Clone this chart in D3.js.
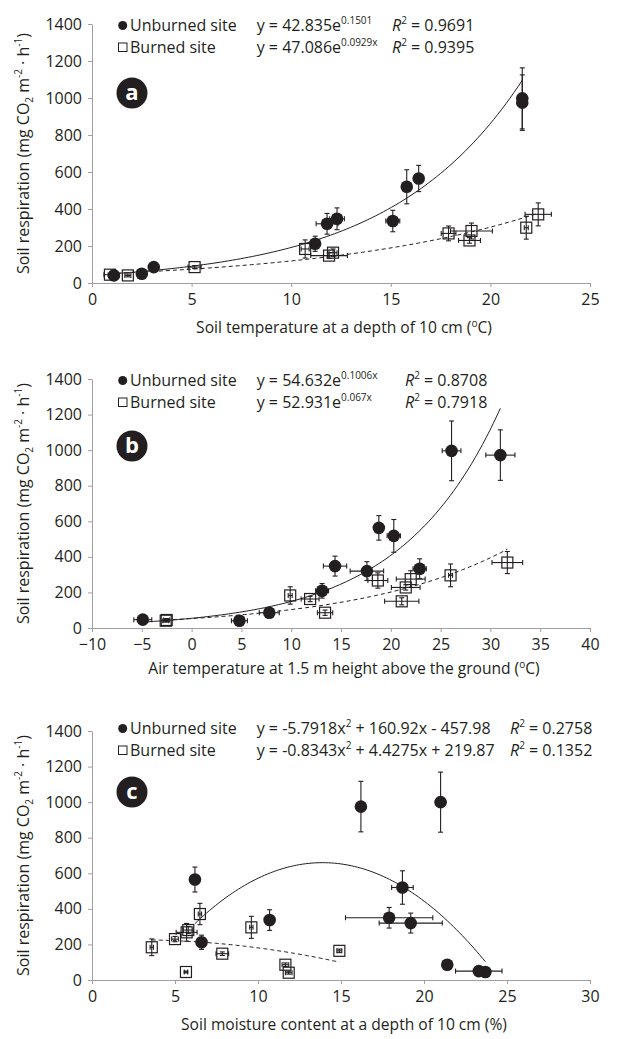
<!DOCTYPE html>
<html>
<head>
<meta charset="utf-8">
<script src="https://cdn.jsdelivr.net/npm/d3@7"></script>
<style>
body { margin: 0; background: #fff; }
</style>
</head>
<body>
<div id="chart"></div>
<script>
// svg nominal area
var svgWidth = 619;
var svgHeight = 1039;
var font = '"Open Sans", sans-serif';
var ink = '#231f20';
var axisGrey = '#a0a0a0';

// shared y ticks
var yTicks = [0, 200, 400, 600, 800, 1000, 1200, 1400];

// ---- panel a : soil temperature at 10 cm
var aXTicks = [0, 5, 10, 15, 20, 25];
var aUnX  = [1.1, 2.5, 3.1, 11.2, 11.8, 12.3, 15.1, 15.8, 16.4, 21.6, 21.6];
var aUnY  = [41, 50, 86, 212, 320, 347, 335, 520, 565, 998, 975];
var aUnXe = [0.1, 0.1, 0.1, 0.15, 0.55, 0.37, 0.35, 0.1, 0.1, 0.05, 0.05];
var aUnYe = [8, 8, 12, 41, 56, 59, 58, 92, 71, 165, 150];
var aBuX  = [0.9, 1.8, 5.15, 10.7, 11.9, 12.1, 17.9, 19.05, 18.95, 21.8, 22.4];
var aBuY  = [45, 41, 86, 184, 148, 164, 268, 281, 230, 299, 371];
var aBuXe = [0.3, 0.15, 0.33, 0.2, 0.92, 0.2, 0.37, 1.05, 0.55, 0.1, 0.66];
var aBuYe = [8, 8, 8, 49, 15, 20, 40, 43, 15, 62, 62];
var aUnFit = [42.835, 0.1501];
var aBuFit = [47.086, 0.0929];

// ---- panel b : air temperature at 1.5 m
var bXTicks = [-10, -5, 0, 5, 10, 15, 20, 25, 30, 35, 40];
var bUnX  = [-4.9, 4.8, 7.8, 13.1, 14.4, 17.6, 22.9, 20.3, 18.8, 26.1, 31.0];
var bUnY  = [47, 41, 86, 209, 348, 320, 333, 518, 563, 996, 972];
var bUnXe = [0.9, 0.8, 1.0, 0.65, 1.17, 1.68, 0.67, 0.67, 0.3, 0.94, 1.46];
var bUnYe = [8, 8, 12, 41, 56, 53, 56, 92, 69, 168, 142];
var bBuX  = [-2.5, -2.6, 9.9, 11.9, 13.4, 18.7, 21.1, 21.5, 22.0, 26.0, 31.7];
var bBuY  = [45, 41, 183, 163, 86, 267, 150, 228, 275, 296, 368];
var bBuXe = [0.3, 0.3, 0.2, 0.9, 0.77, 1.0, 1.72, 1.44, 1.45, 0.2, 1.54];
var bBuYe = [8, 8, 49, 15, 15, 43, 20, 15, 47, 64, 62];
var bUnFit = [54.632, 0.1006];
var bBuFit = [52.931, 0.067];

// ---- panel c : soil moisture at 10 cm
var cXTicks = [0, 5, 10, 15, 20, 25, 30];
var cUnX  = [23.7, 23.3, 21.4, 6.6, 19.2, 17.9, 10.7, 18.7, 6.2, 21.0, 16.2];
var cUnY  = [45, 50, 86, 212, 320, 350, 337, 520, 565, 1000, 975];
var cUnXe = [0.1, 1.4, 0.1, 0.1, 1.9, 2.63, 0.3, 0.65, 0.1, 0.1, 0.1];
var cUnYe = [5, 5, 8, 40, 56, 58, 58, 94, 70, 169, 142];
var cBuX  = [3.6, 5.0, 5.7, 5.8, 6.5, 9.6, 7.85, 14.9, 11.65, 11.85, 5.66];
var cBuY  = [184, 230, 268, 281, 371, 296, 148, 164, 86, 41, 45];
var cBuXe = [0.1, 0.2, 0.63, 0.3, 0.1, 0.1, 0.38, 0.15, 0.2, 0.2, 0.1];
var cBuYe = [47, 15, 50, 20, 60, 62, 10, 10, 10, 8, 5];
var cUnFit = [-5.7918, 160.92, -457.98];
var cBuFit = [-0.8343, 4.4275, 219.87];

// legend / equation texts  ([text, superscript?] segments)
var aEqs = [[['y = 42.835e', 0], ['0.1501', 1]], [['y = 47.086e', 0], ['0.0929x', 1]]];
var aR2 = ['0.9691', '0.9395'];
var bEqs = [[['y = 54.632e', 0], ['0.1006x', 1]], [['y = 52.931e', 0], ['0.067x', 1]]];
var bR2 = ['0.8708', '0.7918'];
var cEqs = [[['y = -5.7918x', 0], ['2', 1], [' + 160.92x - 457.98', 0]],
            [['y = -0.8343x', 0], ['2', 1], [' + 4.4275x + 219.87', 0]]];
var cR2 = ['0.2758', '0.1352'];

var zip = (xs, ys, xe, ye) => xs.map((v, i) => ({x: v, y: ys[i], xe: xe[i], ye: ye[i]}));
var expFit = c => (v => c[0] * Math.exp(c[1] * v));
var polyFit = c => (v => c[0] * v * v + c[1] * v + c[2]);

var panels = [
    {letter: 'a', top: 24, bottom: 283, xDomain: [0, 25], xTicks: aXTicks,
     un: zip(aUnX, aUnY, aUnXe, aUnYe), bu: zip(aBuX, aBuY, aBuXe, aBuYe),
     unFit: expFit(aUnFit), buFit: expFit(aBuFit), eqs: aEqs, r2: aR2,
     legY: [31, 53], rX: 392, badgeY: 93,
     xTitle: 'Soil temperature at a depth of 10 cm (', xTitleEnd: 'C)', xTitleY: 333},
    {letter: 'b', top: 379, bottom: 628, xDomain: [-10, 40], xTicks: bXTicks,
     un: zip(bUnX, bUnY, bUnXe, bUnYe), bu: zip(bBuX, bBuY, bBuXe, bBuYe),
     unFit: expFit(bUnFit), buFit: expFit(bBuFit), eqs: bEqs, r2: bR2,
     legY: [386, 408], rX: 405, badgeY: 446,
     xTitle: 'Air temperature at 1.5 m height above the ground (', xTitleEnd: 'C)', xTitleY: 674},
    {letter: 'c', top: 731, bottom: 980, xDomain: [0, 30], xTicks: cXTicks,
     un: zip(cUnX, cUnY, cUnXe, cUnYe), bu: zip(cBuX, cBuY, cBuXe, cBuYe),
     unFit: polyFit(cUnFit), buFit: polyFit(cBuFit), eqs: cEqs, r2: cR2,
     legY: [734, 756], rX: 510, badgeY: 792,
     xTitle: 'Soil moisture content at a depth of 10 cm (%)', xTitleEnd: null, xTitleY: 1030}
];

var plotLeft = 92;
var plotRight = 590;

var svg = d3.select('#chart')
    .append('svg')
    .attr('width', svgWidth)
    .attr('height', svgHeight)
    .style('background', '#fff');

function drawPanel(p) {
    var x = d3.scaleLinear().domain(p.xDomain).range([plotLeft, plotRight]);
    var y = d3.scaleLinear().domain([0, 1400]).range([p.bottom, p.top]);
    var g = svg.append('g');

    // axes
    g.append('g')
        .attr('transform', `translate(${plotLeft},0)`)
        .call(d3.axisLeft(y).tickValues(yTicks).tickFormat(d3.format('d'))
            .tickSize(4).tickPadding(6).tickSizeOuter(0));
    g.append('g')
        .attr('transform', `translate(0,${p.bottom})`)
        .call(d3.axisBottom(x).tickValues(p.xTicks).tickFormat(d3.format('d'))
            .tickSize(4).tickPadding(7).tickSizeOuter(0));
    g.selectAll('.domain, .tick line').attr('stroke', axisGrey).attr('stroke-width', 1);
    g.selectAll('.tick text')
        .attr('font-size', 16)
        .attr('font-family', font)
        .attr('fill', ink);

    // trend lines over each series' x range
    var line = d3.line().x(d => x(d[0])).y(d => y(d[1]));
    [[p.un, p.unFit, null], [p.bu, p.buFit, '4,3']].forEach(s => {
        var ext = d3.extent(s[0], d => d.x);
        var pts = d3.range(0, 101).map(i => {
            var v = ext[0] + (ext[1] - ext[0]) * i / 100;
            return [v, s[1](v)];
        });
        g.append('path')
            .attr('d', line(pts))
            .attr('fill', 'none')
            .attr('stroke', ink)
            .attr('stroke-width', 1)
            .attr('stroke-dasharray', s[2]);
    });

    // error bars
    var eb = g.append('g').attr('stroke', ink).attr('stroke-width', 1.1);
    p.un.concat(p.bu).forEach(d => {
        var cx = x(d.x), cy = y(d.y);
        var y0 = y(d.y - d.ye), y1 = y(d.y + d.ye);
        var x0 = x(d.x - d.xe), x1 = x(d.x + d.xe);
        eb.append('line').attr('x1', cx).attr('x2', cx).attr('y1', y0).attr('y2', y1);
        eb.append('line').attr('x1', cx - 2.5).attr('x2', cx + 2.5).attr('y1', y0).attr('y2', y0);
        eb.append('line').attr('x1', cx - 2.5).attr('x2', cx + 2.5).attr('y1', y1).attr('y2', y1);
        eb.append('line').attr('x1', x0).attr('x2', x1).attr('y1', cy).attr('y2', cy);
        eb.append('line').attr('x1', x0).attr('x2', x0).attr('y1', cy - 2.5).attr('y2', cy + 2.5);
        eb.append('line').attr('x1', x1).attr('x2', x1).attr('y1', cy - 2.5).attr('y2', cy + 2.5);
    });

    // markers
    g.selectAll('rect.bu')
        .data(p.bu)
        .enter()
        .append('rect')
        .attr('class', 'bu')
        .attr('x', d => x(d.x) - 5.5)
        .attr('y', d => y(d.y) - 5.5)
        .attr('width', 11)
        .attr('height', 11)
        .attr('fill', 'none')
        .attr('stroke', ink)
        .attr('stroke-width', 1.2);
    g.selectAll('circle.un')
        .data(p.un)
        .enter()
        .append('circle')
        .attr('class', 'un')
        .attr('cx', d => x(d.x))
        .attr('cy', d => y(d.y))
        .attr('r', 6.3)
        .attr('fill', ink);

    // legend rows
    var names = ['Unburned site', 'Burned site'];
    names.forEach((name, i) => {
        var by = p.legY[i];
        if (i === 0) {
            g.append('circle').attr('cx', 122.7).attr('cy', by - 5.5).attr('r', 4.5).attr('fill', ink);
        } else {
            g.append('rect').attr('x', 118.5).attr('y', by - 10).attr('width', 8.5).attr('height', 8.5)
                .attr('fill', 'none').attr('stroke', ink).attr('stroke-width', 1);
        }
        g.append('text').attr('x', 130).attr('y', by)
            .attr('font-family', font).attr('font-size', 16).attr('fill', ink)
            .text(name);

        var eq = g.append('text').attr('x', 256.7).attr('y', by)
            .attr('font-family', font).attr('font-size', 16).attr('fill', ink);
        var shifted = false;
        p.eqs[i].forEach(seg => {
            var ts = eq.append('tspan').text(seg[0]);
            if (seg[1]) { ts.attr('font-size', 10).attr('dy', -7); shifted = true; }
            else if (shifted) { ts.attr('dy', 7); shifted = false; }
        });

        var r = g.append('text').attr('x', p.rX).attr('y', by)
            .attr('font-family', font).attr('font-size', 16).attr('fill', ink);
        r.append('tspan').attr('font-style', 'italic').text('R');
        r.append('tspan').attr('font-size', 10).attr('dy', -7).text('2');
        r.append('tspan').attr('dy', 7).text(' = ' + p.r2[i]);
    });

    // badge
    g.append('circle').attr('cx', 132).attr('cy', p.badgeY).attr('r', 15.5).attr('fill', ink);
    g.append('text')
        .attr('x', 132).attr('y', p.badgeY + 7)
        .attr('text-anchor', 'middle')
        .attr('font-family', font).attr('font-weight', 'bold').attr('font-size', 22)
        .attr('fill', '#fff')
        .text(p.letter);

    // x title
    var xt = g.append('text')
        .attr('x', 344).attr('y', p.xTitleY)
        .attr('text-anchor', 'middle')
        .attr('font-family', font).attr('font-size', 15.6).attr('fill', ink);
    xt.append('tspan').text(p.xTitle);
    if (p.xTitleEnd) {
        xt.append('tspan').attr('font-size', 10).attr('dy', -6).text('o');
        xt.append('tspan').attr('dy', 6).text(p.xTitleEnd);
    }

    // y title
    var cy = (p.top + p.bottom) / 2;
    var yt = g.append('text')
        .attr('transform', `translate(29, ${cy}) rotate(-90)`)
        .attr('text-anchor', 'middle')
        .attr('font-family', font).attr('font-size', 16).attr('fill', ink);
    yt.append('tspan').text('Soil respiration (mg CO');
    yt.append('tspan').attr('font-size', 10).attr('dy', 4).text('2');
    yt.append('tspan').attr('dy', -4).text(' m');
    yt.append('tspan').attr('font-size', 10).attr('dy', -7).text('-2');
    yt.append('tspan').attr('dy', 7).text(' · h');
    yt.append('tspan').attr('font-size', 10).attr('dy', -7).text('-1');
    yt.append('tspan').attr('dy', 7).text(')');
}

panels.forEach(drawPanel);
</script>
</body>
</html>
